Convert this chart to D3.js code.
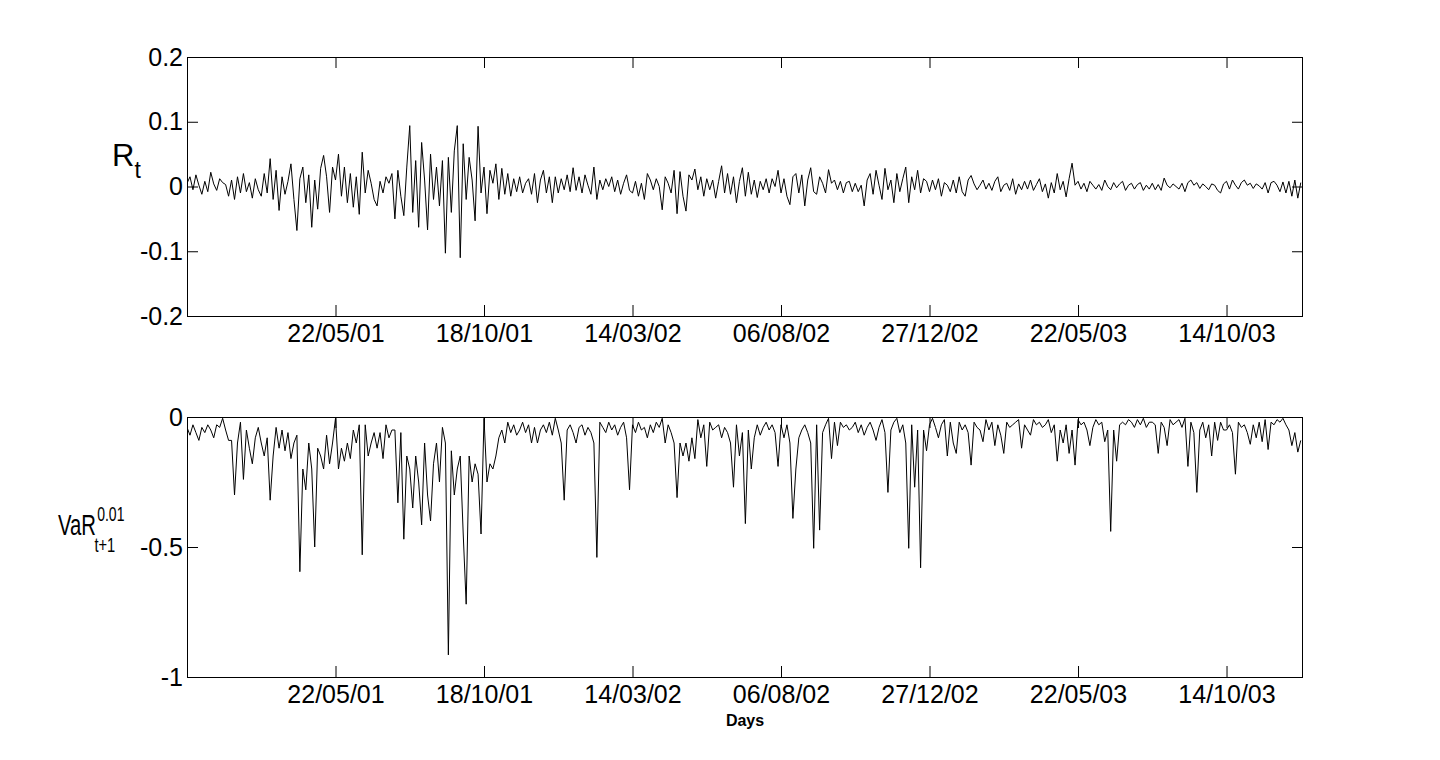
<!DOCTYPE html>
<html>
<head>
<meta charset="utf-8">
<script src="https://cdn.jsdelivr.net/npm/d3@7"></script>
<style>
  body { margin: 0; background: #fff; }
  text { font-family: "Liberation Sans", Arial, sans-serif; fill: #000; }
</style>
</head>
<body>
<svg id="chart" width="1440" height="760"></svg>
<script>
// ---- data ----
const dayStep = 2; // one value every 2 trading days
const tickDays = [100, 200, 300, 400, 500, 600, 700];
const tickLabels = ["22/05/01", "18/10/01", "14/03/02", "06/08/02", "27/12/02", "22/05/03", "14/10/03"];
const returnTicks = [0.2, 0.1, 0, -0.1, -0.2];
const returnTickLabels = ["0.2", "0.1", "0", "-0.1", "-0.2"];
const varTicks = [0, -0.5, -1];
const varTickLabels = ["0", "-0.5", "-1"];

const returns = [
  0.005,0.015,-0.005,0.018,0.002,-0.012,0.008,-0.008,0.022,0.004,-0.006,0.012,0.006,0.003,-0.015,0.010,-0.020,0.015,-0.010,0.020,-0.008,0.006,-0.018,0.012,-0.005,
  -0.015,0.020,-0.010,0.043,-0.020,0.025,-0.037,0.015,-0.012,0.008,0.035,-0.020,-0.068,0.012,0.030,-0.025,0.018,-0.063,0.010,-0.035,0.028,0.048,0.015,-0.040,0.030,
  0.010,0.050,-0.015,0.030,-0.025,0.020,-0.032,0.015,-0.043,0.053,-0.010,0.025,0.005,-0.020,-0.030,0.008,-0.010,0.015,0.005,0.020,-0.050,0.025,-0.015,-0.045,0.030,
  0.094,-0.040,0.040,-0.063,0.068,0.010,-0.067,0.050,-0.020,0.030,-0.030,0.040,-0.103,0.045,-0.040,0.055,0.094,-0.110,0.066,-0.020,0.045,0.010,-0.053,0.093,-0.010,
  0.030,-0.042,0.025,0.005,0.035,-0.020,0.028,-0.012,0.020,-0.015,0.012,-0.008,0.015,-0.010,0.005,0.012,-0.012,0.020,-0.025,0.010,0.025,-0.010,0.015,-0.025,0.015,
  -0.010,0.012,-0.005,0.018,-0.008,0.029,-0.006,0.015,-0.010,0.018,0.002,-0.012,0.030,-0.020,0.010,-0.005,0.012,0.000,0.015,-0.008,0.010,-0.012,0.005,0.018,-0.006,
  -0.010,0.008,-0.015,0.005,-0.020,0.020,0.010,-0.005,0.012,0.000,-0.036,0.015,0.005,-0.010,0.025,-0.042,0.023,-0.015,-0.038,0.018,0.010,0.027,-0.005,0.015,-0.015,
  0.012,-0.005,0.010,-0.018,0.008,0.032,-0.010,0.020,-0.012,0.015,-0.025,0.008,0.029,-0.015,0.022,-0.012,0.010,-0.017,0.008,-0.005,0.012,-0.010,0.012,0.000,0.025,
  -0.010,0.012,-0.015,-0.028,0.015,0.020,-0.010,0.018,-0.030,0.010,0.029,-0.008,-0.012,0.015,0.005,-0.010,0.026,0.005,0.010,-0.005,0.008,-0.010,0.006,0.008,-0.008,
  0.005,-0.008,0.002,-0.030,0.010,0.020,-0.012,0.025,0.002,-0.020,0.028,-0.005,0.010,-0.025,0.020,-0.008,0.012,0.030,-0.025,0.015,-0.005,0.025,-0.010,0.012,0.008,
  -0.008,0.010,-0.005,0.012,-0.015,0.006,0.002,-0.008,0.010,-0.010,0.015,-0.008,-0.015,0.010,0.017,0.004,-0.005,0.002,0.010,-0.004,0.005,-0.006,0.008,0.015,-0.008,
  0.002,0.005,-0.006,0.012,-0.012,0.004,-0.005,0.008,-0.004,0.010,-0.006,0.003,0.012,-0.008,0.004,-0.018,0.006,-0.010,0.020,-0.005,0.008,-0.016,0.012,0.036,0.002,
  0.008,-0.004,0.005,-0.008,0.008,0.002,-0.004,0.003,-0.006,0.010,0.000,-0.005,0.006,-0.002,0.004,0.008,-0.006,0.002,0.005,-0.004,0.003,0.006,-0.006,0.002,-0.004,
  0.005,-0.005,0.003,-0.006,0.013,0.002,-0.002,0.004,0.000,-0.004,0.005,-0.008,0.006,0.010,0.002,0.006,-0.003,0.004,0.000,-0.005,0.004,0.002,-0.006,-0.010,0.004,
  0.008,-0.004,0.010,0.002,-0.004,0.006,0.010,0.002,0.005,-0.003,0.004,0.001,-0.004,0.006,-0.010,0.006,0.008,0.002,-0.008,0.007,-0.010,0.008,-0.015,0.010,-0.018,0.006
];

const valueAtRisk = [
  -0.04,-0.07,-0.03,-0.06,-0.09,-0.04,-0.06,-0.03,-0.05,-0.08,-0.03,-0.04,-0.005,-0.05,-0.09,-0.09,-0.30,-0.10,-0.02,-0.24,-0.05,-0.12,-0.18,-0.08,-0.04,
  -0.10,-0.15,-0.08,-0.32,-0.15,-0.04,-0.12,-0.05,-0.13,-0.06,-0.16,-0.10,-0.07,-0.595,-0.20,-0.28,-0.10,-0.20,-0.50,-0.12,-0.15,-0.20,-0.07,-0.18,-0.10,
  -0.005,-0.20,-0.12,-0.17,-0.10,-0.16,-0.05,-0.10,-0.03,-0.53,-0.03,-0.15,-0.10,-0.06,-0.12,-0.06,-0.16,-0.03,-0.08,-0.05,-0.05,-0.33,-0.06,-0.47,-0.15,
  -0.20,-0.35,-0.15,-0.25,-0.415,-0.10,-0.30,-0.40,-0.18,-0.10,-0.25,-0.04,-0.10,-0.915,-0.13,-0.30,-0.20,-0.15,-0.45,-0.72,-0.15,-0.25,-0.18,-0.22,-0.45,
  -0.005,-0.25,-0.18,-0.20,-0.15,-0.08,-0.05,-0.10,-0.02,-0.06,-0.03,-0.07,-0.05,-0.02,-0.06,-0.03,-0.10,-0.04,-0.10,-0.05,-0.03,-0.06,-0.02,-0.07,-0.005,
  -0.05,-0.10,-0.32,-0.05,-0.03,-0.06,-0.10,-0.04,-0.03,-0.07,-0.04,-0.06,-0.10,-0.54,-0.02,-0.04,-0.06,-0.02,-0.05,-0.03,-0.07,-0.04,-0.02,-0.08,-0.28,
  -0.03,-0.06,-0.02,-0.05,-0.04,-0.08,-0.03,-0.06,-0.02,-0.04,-0.005,-0.10,-0.03,-0.06,-0.10,-0.31,-0.10,-0.15,-0.10,-0.17,-0.08,-0.16,-0.01,-0.08,-0.03,
  -0.19,-0.02,-0.05,-0.04,-0.03,-0.08,-0.04,-0.06,-0.10,-0.27,-0.03,-0.15,-0.06,-0.41,-0.05,-0.20,-0.08,-0.03,-0.07,-0.04,-0.02,-0.05,-0.03,-0.06,-0.19,
  -0.03,-0.08,-0.03,-0.10,-0.39,-0.20,-0.08,-0.05,-0.03,-0.06,-0.10,-0.505,-0.03,-0.435,-0.06,-0.03,-0.005,-0.16,-0.02,-0.11,-0.02,-0.04,-0.03,-0.05,-0.04,
  -0.02,-0.06,-0.03,-0.07,-0.04,-0.02,-0.05,-0.09,-0.04,-0.01,-0.06,-0.29,-0.05,-0.02,-0.005,-0.06,-0.03,-0.10,-0.505,-0.03,-0.27,-0.05,-0.58,-0.05,-0.13,
  -0.03,-0.005,-0.04,-0.08,-0.03,-0.01,-0.15,-0.02,-0.10,-0.14,-0.02,-0.05,-0.03,-0.06,-0.185,-0.02,-0.04,-0.05,-0.095,-0.01,-0.05,-0.02,-0.11,-0.03,-0.07,
  -0.14,-0.02,-0.04,-0.03,-0.02,-0.01,-0.12,-0.03,-0.05,-0.07,-0.01,-0.03,-0.02,-0.04,-0.03,-0.01,-0.06,-0.03,-0.17,-0.05,-0.10,-0.03,-0.14,-0.05,-0.185,
  -0.01,-0.03,-0.02,-0.05,-0.11,-0.04,-0.01,-0.03,-0.02,-0.095,-0.05,-0.44,-0.05,-0.17,-0.03,-0.02,-0.03,-0.01,-0.02,-0.04,-0.01,-0.03,-0.005,-0.04,-0.02,
  -0.02,-0.03,-0.14,-0.02,-0.04,-0.11,-0.01,-0.03,-0.02,-0.01,-0.04,-0.005,-0.19,-0.02,-0.06,-0.29,-0.05,-0.02,-0.08,-0.03,-0.15,-0.02,-0.09,-0.02,-0.05,
  -0.05,-0.03,-0.06,-0.22,-0.02,-0.04,-0.03,-0.06,-0.105,-0.03,-0.08,-0.02,-0.095,-0.01,-0.125,-0.02,-0.03,-0.01,-0.02,-0.005,-0.03,-0.05,-0.11,-0.06,-0.135,-0.09
];

// ---- layout ----
const svg = d3.select("#chart");
const L = 187, R = 1303;
const panels = [
  { top: 57, bottom: 316, domain: [-0.2, 0.2], data: returns, ticks: returnTicks, labels: returnTickLabels },
  { top: 417, bottom: 677, domain: [-1, 0], data: valueAtRisk, ticks: varTicks, labels: varTickLabels }
];
const x = d3.scaleLinear().domain([0, 751.5]).range([L, R]);
const tickLen = 11;

panels.forEach(p => {
  const y = d3.scaleLinear().domain(p.domain).range([p.bottom, p.top]);
  const g = svg.append("g");
  const clipId = "clip" + p.top;
  svg.append("clipPath").attr("id", clipId).append("rect")
    .attr("x", L).attr("y", p.top).attr("width", R - L).attr("height", p.bottom - p.top);

  // line
  const line = d3.line().x((d, i) => x(i * dayStep)).y(d => y(d));
  g.append("path").datum(p.data)
    .attr("clip-path", `url(#${clipId})`)
    .attr("d", line).attr("fill", "none").attr("stroke", "#000").attr("stroke-width", 1);

  // box
  g.append("rect").attr("x", L + 0.5).attr("y", p.top + 0.5)
    .attr("width", R - L - 1).attr("height", p.bottom - p.top)
    .attr("fill", "none").attr("stroke", "#000").attr("stroke-width", 1);

  // axes (MATLAB-style inward ticks)
  const fmtX = d => tickLabels[tickDays.indexOf(d)];
  const xb = d3.axisBottom(x).tickValues(tickDays).tickFormat(fmtX).tickSizeInner(-tickLen).tickSizeOuter(0).tickPadding(8);
  const xt = d3.axisTop(x).tickValues(tickDays).tickFormat("").tickSizeInner(-tickLen).tickSizeOuter(0);
  const yl = d3.axisLeft(y).tickValues(p.ticks).tickFormat(d => p.labels[p.ticks.indexOf(d)]).tickSizeInner(-tickLen).tickSizeOuter(0).tickPadding(4);
  const yr = d3.axisRight(y).tickValues(p.ticks).tickFormat("").tickSizeInner(-tickLen).tickSizeOuter(0);

  [[xb, `translate(0,${p.bottom})`], [xt, `translate(0,${p.top})`], [yl, `translate(${L},0)`], [yr, `translate(${R},0)`]].forEach(([ax, tr]) => {
    const a = g.append("g").attr("transform", tr).call(ax);
    a.select(".domain").remove();
    a.selectAll("line").attr("stroke", "#000");
    a.selectAll("text").attr("font-size", 25).attr("font-family", "'Liberation Sans', Arial, sans-serif").attr("fill", "#000");
  });
});

// y label top: R_t
const rl = svg.append("text").attr("x", 112).attr("y", 166).attr("font-size", 31);
rl.append("tspan").text("R");
rl.append("tspan").attr("font-size", 23).attr("dy", 12).text("t");

// y label bottom: VaR^{0.01}_{t+1}, condensed
const vg = svg.append("g").attr("transform", "translate(58,535) scale(0.7,1)");
vg.append("text").attr("x", 0).attr("y", 0).attr("font-size", 29).text("VaR");
vg.append("text").attr("x", 56).attr("y", -14).attr("font-size", 20).text("0.01");
vg.append("text").attr("x", 52).attr("y", 17).attr("font-size", 21).text("t+1");

// x label
svg.append("text").attr("x", (L + R) / 2).attr("y", 726).attr("text-anchor", "middle")
  .attr("font-size", 16).attr("font-weight", "bold").text("Days");
</script>
</body>
</html>
